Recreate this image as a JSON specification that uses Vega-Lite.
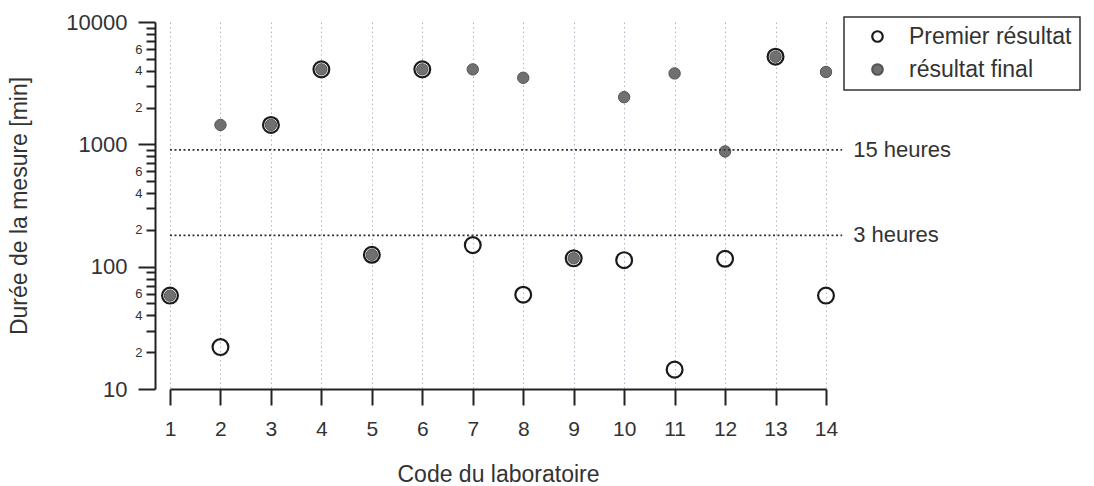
{
  "$schema": "https://vega.github.io/schema/vega-lite/v6.json",
  "autosize": {"type": "none"},
  "padding": {"left": 170, "top": 22, "right": 268, "bottom": 97},
  "width": 656,
  "height": 367,
  "background": "white",
  "config": {
    "font": "Liberation Sans",
    "view": {"stroke": null},
    "legend": {"strokeWidth": 1.5}
  },
  "datasets": {
    "mesures": [
      {"lab": 1, "serie": "résultat final", "minutes": 58},
      {"lab": 2, "serie": "résultat final", "minutes": 1440},
      {"lab": 3, "serie": "résultat final", "minutes": 1440},
      {"lab": 4, "serie": "résultat final", "minutes": 4100},
      {"lab": 5, "serie": "résultat final", "minutes": 125},
      {"lab": 6, "serie": "résultat final", "minutes": 4100},
      {"lab": 7, "serie": "résultat final", "minutes": 4100},
      {"lab": 8, "serie": "résultat final", "minutes": 3500},
      {"lab": 9, "serie": "résultat final", "minutes": 117},
      {"lab": 10, "serie": "résultat final", "minutes": 2430},
      {"lab": 11, "serie": "résultat final", "minutes": 3800},
      {"lab": 12, "serie": "résultat final", "minutes": 875},
      {"lab": 13, "serie": "résultat final", "minutes": 5200},
      {"lab": 14, "serie": "résultat final", "minutes": 3900},
      {"lab": 1, "serie": "Premier résultat", "minutes": 58},
      {"lab": 2, "serie": "Premier résultat", "minutes": 22},
      {"lab": 3, "serie": "Premier résultat", "minutes": 1440},
      {"lab": 4, "serie": "Premier résultat", "minutes": 4100},
      {"lab": 5, "serie": "Premier résultat", "minutes": 125},
      {"lab": 6, "serie": "Premier résultat", "minutes": 4100},
      {"lab": 7, "serie": "Premier résultat", "minutes": 150},
      {"lab": 8, "serie": "Premier résultat", "minutes": 59},
      {"lab": 9, "serie": "Premier résultat", "minutes": 117},
      {"lab": 10, "serie": "Premier résultat", "minutes": 113},
      {"lab": 11, "serie": "Premier résultat", "minutes": 14.4},
      {"lab": 12, "serie": "Premier résultat", "minutes": 116},
      {"lab": 13, "serie": "Premier résultat", "minutes": 5200},
      {"lab": 14, "serie": "Premier résultat", "minutes": 58}
    ],
    "seuils": [
      {"label": "15 heures", "minutes": 900},
      {"label": "3 heures", "minutes": 180}
    ]
  },
  "layer": [
    {
      "data": {"name": "mesures"},
      "mark": {"type": "point", "shape": "circle", "filled": false, "opacity": 1},
      "encoding": {
        "x": {
          "field": "lab", "type": "quantitative",
          "scale": {"domain": [1, 14], "nice": false, "zero": false},
          "axis": {
            "values": [1,2,3,4,5,6,7,8,9,10,11,12,13,14],
            "format": "d",
            "title": "Code du laboratoire",
            "titleFontSize": 23, "titleFontWeight": "normal", "titleColor": "#333", "titlePadding": 24,
            "labelFontSize": 21, "labelColor": "#333", "labelPadding": 13, "labelFlush": false, "labelOverlap": false,
            "tickSize": 16, "tickWidth": 2, "tickColor": "#222",
            "domainColor": "#222", "domainWidth": 2,
            "grid": true, "gridColor": "#a9b6c6", "gridDash": [1.5, 3], "gridWidth": 1
          }
        },
        "y": {
          "field": "minutes", "type": "quantitative",
          "title": "Durée de la mesure [min]",
          "scale": {"type": "log", "domain": [10, 10000], "nice": false},
          "axis": {
            "values": [10,20,30,40,50,60,70,80,90,100,200,300,400,500,600,700,800,900,1000,2000,3000,4000,5000,6000,7000,8000,9000,10000],
            "labelExpr": "indexof([10,100,1000,10000], datum.value) >= 0 ? toString(datum.value) : (indexof([20,40,60,200,400,600,2000,4000,6000], datum.value) >= 0 ? slice(toString(datum.value),0,1) : '')",
            "labelFontSize": {"condition": {"test": "indexof([10,100,1000,10000], datum.value) >= 0", "value": 22}, "value": 13},
            "labelPadding": {"condition": {"test": "indexof([10,100,1000,10000], datum.value) >= 0", "value": 11}, "value": 4},
            "tickSize": {"condition": {"test": "indexof([10,100,1000,10000], datum.value) >= 0", "value": 17}, "value": 9},
            "labelColor": "#333", "labelOverlap": false, "labelFlush": false, "labelBound": false,
            "tickWidth": 2, "tickColor": "#222",
            "domainColor": "#222", "domainWidth": 2,
            "offset": 15, "grid": false,
            "titleFontSize": 23, "titleFontWeight": "normal", "titleColor": "#333", "titlePadding": 34
          }
        },
        "fill": {
          "field": "serie", "type": "nominal",
          "scale": {"domain": ["Premier résultat", "résultat final"], "range": ["transparent", "#707070"]},
          "legend": {
            "title": null, "orient": "none", "legendX": 674, "legendY": -5,
            "strokeColor": "#333", "padding": 8, "rowPadding": 9,
            "symbolType": "circle", "symbolSize": 110, "symbolStrokeWidth": 2.2, "symbolOffset": 14,
            "labelFontSize": 23, "labelColor": "#333", "labelOffset": 20, "labelLimit": 400,
            "labelExpr": "datum.label + '\u00a0\u00a0\u00a0\u00a0'"
          }
        },
        "stroke": {
          "field": "serie", "type": "nominal",
          "scale": {"domain": ["Premier résultat", "résultat final"], "range": ["#1a1a1a", "#555555"]},
          "legend": {
            "title": null, "orient": "none", "legendX": 674, "legendY": -5,
            "strokeColor": "#333", "padding": 8, "rowPadding": 9,
            "symbolType": "circle", "symbolSize": 110, "symbolStrokeWidth": 2.2, "symbolOffset": 14,
            "labelFontSize": 23, "labelColor": "#333", "labelOffset": 20, "labelLimit": 400,
            "labelExpr": "datum.label + '\u00a0\u00a0\u00a0\u00a0'"
          }
        },
        "size": {
          "condition": {"test": "datum.serie === 'Premier résultat'", "value": 250},
          "value": 130
        },
        "strokeWidth": {
          "condition": {"test": "datum.serie === 'Premier résultat'", "value": 2.2},
          "value": 1
        }
      }
    },
    {
      "data": {"name": "seuils"},
      "mark": {"type": "rule", "color": "#333", "strokeWidth": 1.8, "strokeDash": [2, 2.5]},
      "encoding": {
        "x": {"datum": 1, "type": "quantitative"},
        "x2": {"datum": 14.32},
        "y": {"field": "minutes", "type": "quantitative", "title": "Durée de la mesure [min]"}
      }
    },
    {
      "data": {"name": "seuils"},
      "mark": {"type": "text", "align": "left", "baseline": "middle", "dx": 11, "fontSize": 22, "color": "#333"},
      "encoding": {
        "x": {"datum": 14.32, "type": "quantitative"},
        "y": {"field": "minutes", "type": "quantitative", "title": "Durée de la mesure [min]"},
        "text": {"field": "label"}
      }
    }
  ]
}
